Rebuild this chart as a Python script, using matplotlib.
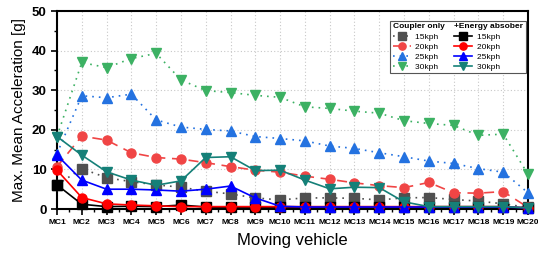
import matplotlib
matplotlib.use("Agg")
import matplotlib.pyplot as plt
import matplotlib.text as mtext
from matplotlib.legend_handler import HandlerBase
from matplotlib.ticker import MultipleLocator

plt.rcParams['font.family'] = ['Liberation Sans', 'DejaVu Sans']

vehicles = [f"MC{i}" for i in range(1, 21)]

coupler_15 = [6.1, 10.2, 7.9, 6.9, 6.1, 5.5, 4.5, 3.8, 2.8, 2.3, 2.8, 2.8, 2.7, 2.3, 2.8, 2.9, 2.4, 2.0, 1.3, 0.4]
coupler_20 = [10.7, 18.4, 17.4, 14.2, 13.0, 12.6, 11.7, 10.7, 9.8, 9.3, 8.3, 7.5, 6.6, 5.9, 5.4, 6.7, 4.1, 4.0, 4.4, 0.4]
coupler_25 = [14.0, 28.6, 28.1, 29.0, 22.5, 20.7, 20.1, 19.7, 18.3, 17.8, 17.2, 15.9, 15.3, 14.2, 13.2, 12.1, 11.5, 10.2, 9.3, 4.1]
coupler_30 = [18.3, 37.0, 35.7, 38.0, 39.3, 32.6, 29.9, 29.4, 28.7, 28.2, 25.8, 25.4, 24.7, 24.2, 22.3, 21.6, 21.1, 18.6, 18.9, 8.8]

energy_15 = [6.1, 1.2, 0.6, 0.7, 0.6, 1.0, 0.5, 0.4, 0.4, 0.4, 0.4, 0.4, 0.4, 0.4, 0.4, 0.4, 0.4, 0.4, 0.4, 0.2]
energy_20 = [9.8, 2.9, 1.3, 1.0, 0.8, 0.6, 0.6, 0.6, 0.6, 0.6, 0.6, 0.6, 0.6, 0.6, 0.6, 0.6, 0.6, 0.6, 0.6, 0.3]
energy_25 = [13.6, 7.3, 5.0, 5.0, 4.8, 4.5, 5.0, 5.8, 2.8, 0.7, 0.5, 0.5, 0.5, 0.5, 0.5, 0.5, 0.5, 0.5, 0.5, 0.3]
energy_30 = [18.3, 13.6, 9.4, 7.3, 6.0, 7.1, 13.0, 13.2, 9.7, 9.8, 7.3, 5.1, 5.5, 5.4, 1.8, 0.6, 0.6, 0.6, 0.6, 0.3]

speed_labels = ["15kph", "20kph", "25kph", "30kph"]
group_titles = ["Coupler only", "+Energy absober"]

fig = plt.figure(figsize=(5.38, 2.54), dpi=100)
ax = fig.add_axes([57/538, 1-209/254, (528-57)/538, (209-11)/254])

x = list(range(len(vehicles)))
dot = (0, (1, 3))
dash = (0, (6, 4))
ms = 6.5
lw = 1.2

coupler_styles = [
    (coupler_15, '#505050', 's', dot),
    (coupler_20, '#f04545', 'o', dash),
    (coupler_25, '#2472e0', '^', dot),
    (coupler_30, '#3cb163', 'v', dot),
]
energy_styles = [
    (energy_15, '#000000', 's', '-'),
    (energy_20, '#ff0000', 'o', '-'),
    (energy_25, '#0000ff', '^', '-'),
    (energy_30, '#158078', 'v', '-'),
]

c_handles = []
for (vals, col, mk, ls), lab in zip(coupler_styles, speed_labels):
    h, = ax.plot(x, vals, color=col, marker=mk, ls=ls, lw=lw, ms=ms, label=lab, clip_on=False, zorder=3)
    c_handles.append(h)
e_handles = []
for (vals, col, mk, ls), lab in zip(energy_styles, speed_labels):
    h, = ax.plot(x, vals, color=col, marker=mk, ls=ls, lw=lw, ms=ms, label=lab, clip_on=False, zorder=4)
    e_handles.append(h)

ax.set_xlim(0, len(vehicles) - 1)
ax.set_ylim(0, 50)
ax.set_xticks(x)
ax.set_xticklabels(vehicles, fontsize=6, fontweight='bold')
ax.set_yticks([0, 10, 20, 30, 40, 50])
ax.tick_params(axis='y', labelsize=9.5)
for t in ax.get_yticklabels():
    t.set_fontweight('bold')
ax.xaxis.set_minor_locator(MultipleLocator(0.5))
ax.yaxis.set_minor_locator(MultipleLocator(5))
ax.tick_params(which='major', direction='out', length=4, width=1.2)
ax.tick_params(which='minor', direction='out', length=2, width=1)
ax.tick_params(axis='x', pad=3)
for s in ax.spines.values():
    s.set_linewidth(1.5)
ax.grid(True, which='major', ls=(0, (1, 2)), color='#c8c8c8', lw=0.8)
ax.set_axisbelow(True)

ax.set_ylabel("Max. Mean Acceleration [g]", fontsize=11, labelpad=4)
ax.set_xlabel("Moving vehicle", fontsize=12, labelpad=5)

leg_fs = 6.0
handlelength = 2.2
handletextpad = 0.5


class Title:
    def __init__(self, text):
        self.text = text


class TitleHandler(HandlerBase):
    def create_artists(self, legend, orig_handle, xdescent, ydescent, width, height, fontsize, trans):
        t = mtext.Text(-xdescent, height / 2 - ydescent, orig_handle.text, fontsize=fontsize,
                       fontweight='bold', va='center', ha='left', transform=trans)
        return [t]


# pad the entry labels with trailing spaces so each column is as wide as its bold title
renderer = fig.canvas.get_renderer()
pad_px = (handlelength + handletextpad) * leg_fs * fig.dpi / 72


def text_w(s, weight='normal'):
    t = fig.text(0, 0, s, fontsize=leg_fs, fontweight=weight)
    w = t.get_window_extent(renderer).width
    t.remove()
    return w


col_labels = []
for title in group_titles:
    target = text_w(title, 'bold') - pad_px
    labs = []
    for s in speed_labels:
        padded = s
        while text_w(padded + "|") < target + text_w("|") and len(padded) < 40:
            padded += " "
        labs.append(padded)
    col_labels.append(labs)

handles = [Title(group_titles[0])] + c_handles + [Title(group_titles[1])] + e_handles
labels = [""] + col_labels[0] + [""] + col_labels[1]
leg = ax.legend(handles, labels, handler_map={Title: TitleHandler()}, ncol=2,
                loc='upper right', bbox_to_anchor=(0.996, 0.95), borderaxespad=0,
                fontsize=leg_fs, labelspacing=0.25, handlelength=handlelength,
                handletextpad=handletextpad, columnspacing=1.0, borderpad=0.3,
                fancybox=False, framealpha=1, edgecolor='#555555', markerscale=0.8)
leg.get_frame().set_linewidth(0.8)

fig.savefig("out.png", dpi=100)
